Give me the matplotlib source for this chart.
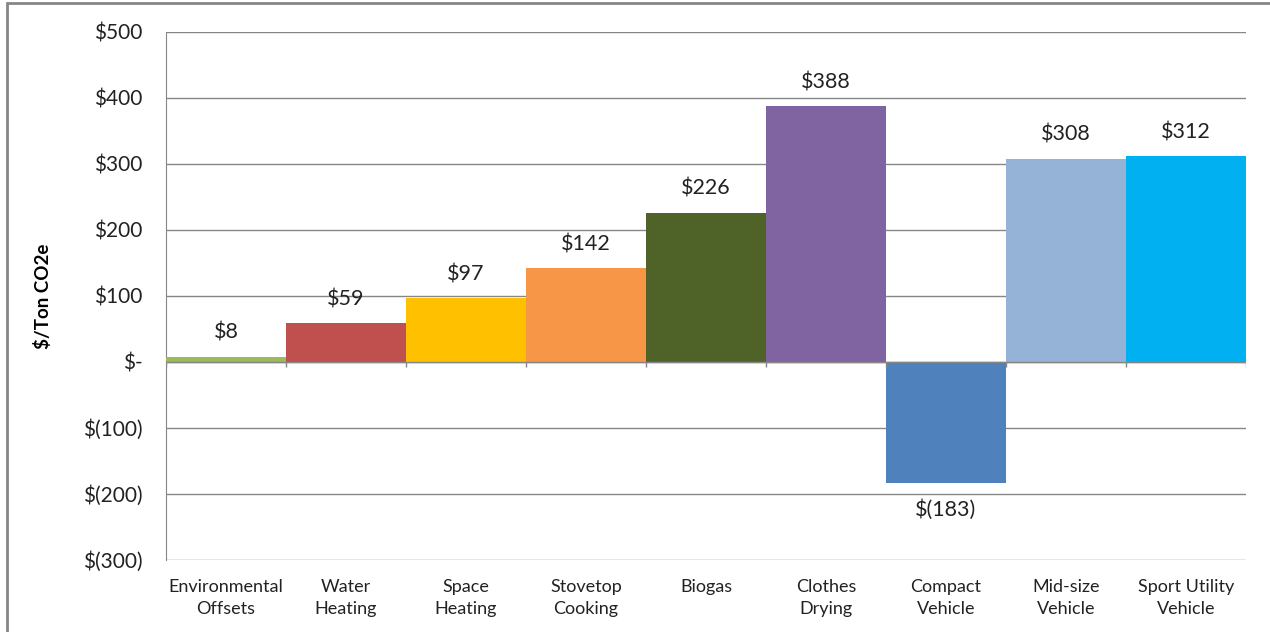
import matplotlib.pyplot as plt
import matplotlib.patches as patches
from matplotlib.ticker import FuncFormatter

categories = ["Environmental\nOffsets", "Water\nHeating", "Space\nHeating", "Stovetop\nCooking",
              "Biogas", "Clothes\nDrying", "Compact\nVehicle", "Mid-size\nVehicle", "Sport Utility\nVehicle"]
values = [8, 59, 97, 142, 226, 388, -183, 308, 312]
colors = ["#9BBB59", "#C0504D", "#FFC000", "#F79646", "#4F6228",
          "#8064A2", "#4F81BD", "#95B3D7", "#00B0F0"]


def money(v):
    if v == 0:
        return "$-"
    if v < 0:
        return "$(%d)" % abs(v)
    return "$%d" % v


def main():
    plt.rcParams['font.family'] = ['Lato', 'DejaVu Sans']
    fig = plt.figure(figsize=(12.7, 6.32), dpi=100)
    ax = fig.add_axes([166 / 1270, 1 - 560 / 632, 1080 / 1270, 528 / 632])

    x = list(range(len(values)))
    ax.bar(x, values, width=1.0, color=colors, zorder=3)

    ax.set_xlim(-0.5, len(values) - 0.5)
    ax.set_ylim(-300, 500)
    ax.set_yticks(range(-300, 501, 100))
    ax.yaxis.set_major_formatter(FuncFormatter(lambda v, p: money(int(v))))
    ax.tick_params(axis="y", length=0, labelsize=15, pad=17, colors="#222222")
    ax.grid(axis="y", color="#868686", linewidth=1, zorder=0)

    ax.set_xticks(x)
    ax.set_xticklabels(categories, fontsize=13, linespacing=1.45)
    ax.tick_params(axis="x", length=0, pad=14, colors="#222222")

    for s in ["top", "right", "bottom"]:
        ax.spines[s].set_visible(False)
    ax.spines["left"].set_color("#868686")

    # category axis at zero with boundary ticks
    ax.axhline(0, color="#868686", linewidth=1, zorder=4)
    ax.vlines([i - 0.5 for i in range(len(values) + 1)], -8, 0, color="#868686", linewidth=1, zorder=4)

    for i, v in enumerate(values):
        if v >= 0:
            ax.annotate(money(v), (i, v), xytext=(0, 10), textcoords="offset points",
                        ha="center", va="bottom", fontsize=15.5, color="#222222")
        else:
            ax.annotate(money(v), (i, v), xytext=(0, -12), textcoords="offset points",
                        ha="center", va="top", fontsize=15.5, color="#222222")

    ax.set_ylabel("$/Ton CO2e", fontsize=13.5, fontweight="bold", labelpad=22)

    # outer chart frame
    fig.patches.append(patches.Rectangle((7 / 1270, -0.1), 1.2, 1 - 3 / 632 + 0.1,
                                         transform=fig.transFigure, fill=False,
                                         edgecolor="#868686", linewidth=2))

    fig.savefig("out.png", dpi=100)


if __name__ == "__main__":
    main()
